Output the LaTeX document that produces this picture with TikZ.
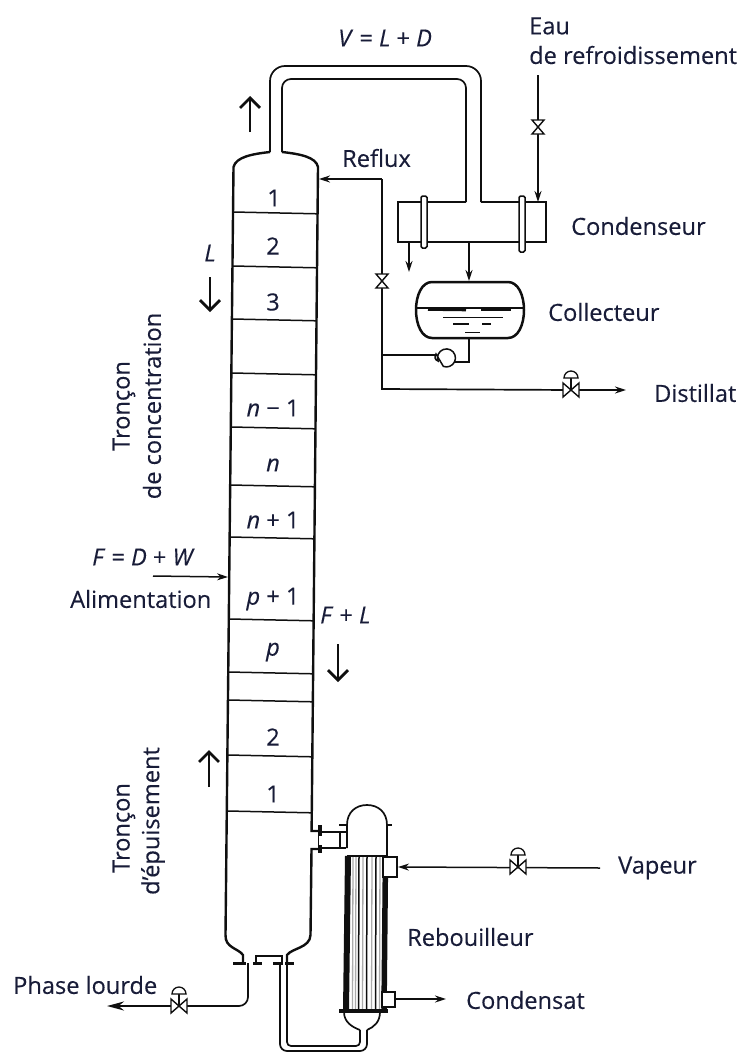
\documentclass[tikz,border=0pt]{standalone}
\usepackage{fontspec}
\setmainfont[FakeBold=0.25]{Open Sans}
\usetikzlibrary{arrows.meta}
\definecolor{ink}{RGB}{15,15,15}
\definecolor{lab}{RGB}{24,28,56}
\tikzset{
  wall/.style={draw=ink,line width=2.4pt},
  pipe/.style={draw=ink,line width=1.7pt},
  thin line/.style={draw=ink,line width=1.5pt},
  flow/.style={draw=ink,line width=1.5pt,-{Stealth[length=11pt,width=7pt]}},
  bigarrow/.style={draw=ink,line width=2.4pt,-{Straight Barb[length=10pt,width=20pt,line width=2.7pt]}},
  lbl/.style={text=lab,font=\fontsize{23.6}{28}\selectfont,inner sep=0pt,anchor=west},
  num/.style={text=lab,font=\fontsize{23.6}{28}\selectfont,inner sep=0pt},
  rot/.style={text=lab,font=\fontsize{23.6}{28}\selectfont,inner sep=0pt,rotate=90},
  vvalve/.pic={
    \draw[ink,line width=1.4pt,fill=white] (-6,-7)--(0,0)--(6,-7)--cycle (-6,7)--(0,0)--(6,7)--cycle;},
  cvalve/.pic={
    \draw[ink,line width=1.4pt,fill=white] (-8,-7)--(0,0)--(-8,7)--cycle (8,-7)--(0,0)--(8,7)--cycle;
    \draw[ink,line width=1.8pt] (0,0)--(0,-12);
    \draw[ink,line width=1.3pt,fill=white] (-7,-12)--(7,-12) arc[start angle=0,end angle=-180,radius=7] -- cycle;},
}
\begin{document}
\begin{tikzpicture}[x=1pt,y=-1pt]
\useasboundingbox (0,0) rectangle (743,1052);

% named points of the pipework
\coordinate (nozzleL) at (270,152);
\coordinate (nozzleR) at (282,152);
\coordinate (condIn1) at (466,202);
\coordinate (condIn2) at (481,202);
\coordinate (waterTop) at (538,75);
\coordinate (waterValve) at (538,127);
\coordinate (waterIn) at (538,202);
\coordinate (refluxFeed) at (382,179);
\coordinate (refluxIn) at (319,179);
\coordinate (refluxValve) at (382,281);
\coordinate (corner) at (382,389);
\coordinate (distValve) at (571,390);
\coordinate (distEnd) at (626,390);
\coordinate (condOut) at (409,242);
\coordinate (condOutEnd) at (409,272);
\coordinate (condDown) at (469,242);
\coordinate (collIn) at (469,281);
\coordinate (collOut) at (469,338);
\coordinate (pumpOut) at (454,362);
\coordinate (pumpIn) at (436,355);
\coordinate (pumpBranch) at (382,355);
\coordinate (feedStart) at (153,576);
\coordinate (feedIn) at (228,577);
\coordinate (bottomOut) at (248,963);
\coordinate (heavyValve) at (179,1006);
\coordinate (heavyEnd) at (107,1006);
\coordinate (steamStart) at (600,868);
\coordinate (steamValve) at (518,867);
\coordinate (steamIn) at (398,867);
\coordinate (condensIn) at (395,999);
\coordinate (condensEnd) at (446,999);

% overhead vapour pipe
\draw[pipe,rounded corners=15pt] (nozzleL) -- (270,66) -- (481,66) -- (condIn2);
\draw[pipe,rounded corners=9pt] (nozzleR) -- (282,79) -- (466,79) -- (condIn1);

% column
\draw[wall] (nozzleL) .. controls (252,154) and (236,157) .. (233.5,167)
  -- (225.5,935) .. controls (225,948) and (238,948) .. (243,955) -- (243,962);
\draw[wall] (nozzleR) .. controls (300,154) and (316,157) .. (318,167) -- (311.6,831) -- (320,831);
\draw[wall] (320,849) -- (311.5,849) -- (310.5,935) .. controls (310,948) and (292,948) .. (287,955) -- (287,962);
\foreach \y in {212,266,319,373,427,485,537,619,672,700,755,811}{
  \pgfmathsetmacro\xl{233.5-0.0096*(\y-165)}
  \draw[thin line] (\xl,\y) -- (\xl+84.5,\y+1.8);
}
% column bottom flanges and stubs
\draw[ink,line width=3pt] (233,963) -- (246,963);
\draw[wall] (256,962) -- (256,956) -- (282,956) -- (282,963);
\draw[ink,line width=3pt] (253,963) -- (262,963);
\draw[ink,line width=3pt] (273,963) -- (283,963);
\draw[ink,line width=3pt] (285,963) -- (294,963);
% nozzle to reboiler
\draw[ink,line width=4pt] (319.5,825) -- (319.5,836) (319.5,845) -- (319.5,853);
\draw[pipe] (320,832) -- (346,832);
\draw[pipe] (320,848) -- (346,848);
\draw[pipe] (318.5,832) -- (318.5,848);
\draw[pipe] (340,832) -- (340,848);

% reboiler
\draw[pipe] (347,848) -- (347,825) .. controls (347,812) and (356,805) .. (367,805)
  .. controls (378,805) and (387,812) .. (387,825) -- (387,856);
\draw[pipe] (339,825) -- (347,825);
\draw[pipe] (387,825) -- (392,825);
\draw[ink,line width=2.4pt] (347,856) -- (387,856);
\foreach \x in {353,356,363,372,380}{
  \draw[ink!35,line width=1.3pt] (\x,857) -- (\x-.5,1010);
}
\foreach \x in {359,367,376}{
  \draw[ink,line width=1.5pt] (\x,857) -- (\x-.5,1010);
}
\draw[ink,line width=6pt] (348,856) -- (346,1011);
\draw[ink,line width=5.5pt] (385.5,856) -- (384,1011);
\draw[ink,line width=3.5pt] (339,1011) -- (388,1011);
\draw[ink,line width=1.5pt,fill=white] (383,857) rectangle (397,877);
\draw[ink,line width=1.5pt,fill=white] (382,992) rectangle (395,1007);
\draw[pipe] (344,1012) .. controls (344,1022) and (352,1027) .. (360,1030);
\draw[pipe] (380,1012) .. controls (380,1022) and (374,1027) .. (367,1030);

% U pipe from column bottom to reboiler head
\draw[pipe,rounded corners=7pt] (280,963) -- (280,1051) -- (367,1051) -- (367,1030);
\draw[pipe,rounded corners=4pt] (287,963) -- (287,1046) -- (360,1046) -- (360,1030);

% condenser
\draw[pipe] (condIn1) -- (398,202) -- (398,242) -- (546,242) -- (546,202) -- (condIn2);
\draw[ink,line width=1.5pt,fill=white,rounded corners=1.5pt] (421,196) rectangle (427,248);
\draw[ink,line width=1.5pt,fill=white,rounded corners=1.5pt] (519,196) rectangle (525,252);
\draw[flow] (condOut) -- (condOutEnd);
\draw[flow] (condDown) -- (collIn);

% collector
\draw[ink,line width=2.5pt] (432,282) -- (508,282)
  .. controls (518,282) and (524,295) .. (524,310)
  .. controls (524,325) and (518,338) .. (508,338) -- (432,338)
  .. controls (422,338) and (416,325) .. (416,310)
  .. controls (416,295) and (422,282) .. (432,282) -- cycle;
\draw[ink,line width=1.2pt] (416,308) -- (524,308);
\draw[ink,line width=2.6pt] (428,309.5) -- (466,310);
\draw[ink,line width=2.6pt] (481,310) -- (511,310);
\draw[ink,line width=1.2pt] (443,317.5) -- (503,317.5);
\draw[ink,line width=1.2pt] (453,324) -- (469,324) (482,324) -- (491,324);
\draw[ink,line width=.9pt] (465,332) -- (480,332);

% pump and its lines
\draw[pipe] (collOut) |- (pumpOut);
\draw[pipe] (pumpBranch) -- (pumpIn);
\draw[ink,line width=1.5pt,fill=white] (436,354) .. controls (434,357) and (435,360) .. (438,361)
  arc[start angle=200,end angle=-110,x radius=9,y radius=-9] -- (436,354) -- cycle;

% reflux line and distillate
\draw[flow] (refluxFeed) -- (refluxIn);
\draw[pipe] (refluxFeed) -- (corner) -- (distValve);
\draw[flow] (distValve) -- (distEnd);
\pic at (refluxValve) {vvalve};
\pic at (distValve) {cvalve};

% cooling water
\draw[flow] (waterTop) -- (waterIn);
\pic at (waterValve) {vvalve};

% feed
\draw[flow] (feedStart) -- (feedIn);

% heavy phase
\draw[pipe,rounded corners=9pt] (bottomOut) -- (248,1006) -- (heavyValve);
\draw[ink,line width=2pt,-{Stealth[length=17pt,width=9pt]}] (heavyValve) -- (heavyEnd);
\pic at (heavyValve) {cvalve};

% steam
\draw[flow] (steamStart) -- (steamIn);
\pic at (steamValve) {cvalve};

% condensate
\draw[flow] (condensIn) -- (condensEnd);

% direction arrows
\coordinate (a1s) at (250,132); \coordinate (a1e) at (250,96);
\coordinate (a2s) at (210,277); \coordinate (a2e) at (210,312);
\coordinate (a3s) at (338,644); \coordinate (a3e) at (338,682);
\coordinate (a4s) at (209,787); \coordinate (a4e) at (209,750);
\draw[bigarrow] (a1s) -- (a1e);
\draw[bigarrow] (a2s) -- (a2e);
\draw[bigarrow] (a3s) -- (a3e);
\draw[bigarrow] (a4s) -- (a4e);

% labels
\node[lbl] (tVLD) at (338,38) {\textit{V} = \textit{L} + \textit{D}};
\node[lbl] (tEau) at (529,26) {Eau};
\node[lbl] (tRefr) at (529,55) {de refroidissement};
\node[lbl] (tReflux) at (342,158) {Reflux};
\node[lbl] (tCond) at (571,226) {Condenseur};
\node[lbl] (tColl) at (548,312) {Collecteur};
\node[lbl] (tDist) at (654,393) {Distillat};
\node[lbl] (tVap) at (618,868) {Vapeur};
\node[lbl] (tReb) at (407,937) {Rebouilleur};
\node[lbl] (tCondens) at (466,1000) {Condensat};
\node[lbl] (tPhase) at (13,985) {Phase lourde};
\node[lbl] (tAlim) at (70,599) {Alimentation};
\node[lbl] (tFDW) at (92,557) {\textit{F} = \textit{D} + \textit{W}};
\node[lbl] (tFL) at (320,615) {\textit{F} + \textit{L}};
\node[num] (tL) at (210,253) {\textit{L}};
\node[rot] (tT1) at (124,406) {Tronçon};
\node[rot] (tC1) at (152,406) {de concentration};
\node[rot] (tT2) at (124,828) {Tronçon};
\node[rot] (tC2) at (153,821) {d’épuisement};
\node[num] (n1) at (274,198) {1};
\node[num] (n2) at (273,246) {2};
\node[num] (n3) at (273,302) {3};
\node[num] (n4) at (273,408) {\textit{n} − 1};
\node[num] (n5) at (273,465) {\textit{n}};
\node[num] (n6) at (273,520) {\textit{n} + 1};
\node[num] (n7) at (273,599) {\textit{p} + 1};
\node[num] (n8) at (273,652) {\textit{p}};
\node[num] (n9) at (273,737) {2};
\node[num] (n10) at (273,794) {1};
\end{tikzpicture}
\end{document}
